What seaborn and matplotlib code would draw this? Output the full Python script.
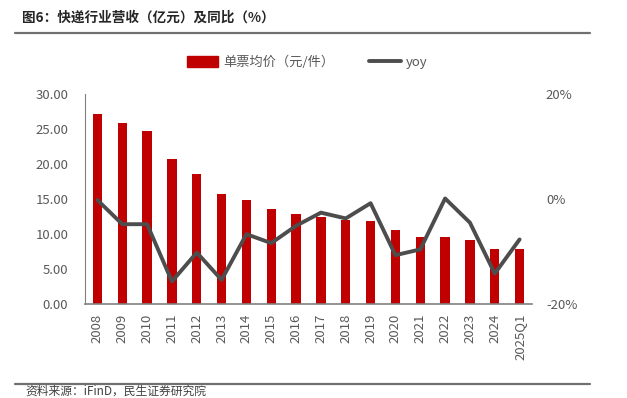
import matplotlib
matplotlib.use("Agg")
import matplotlib.pyplot as plt
import seaborn as sns
import pandas as pd
from matplotlib.lines import Line2D
from matplotlib.patches import Patch

sns.set_style("white")
plt.rcParams['font.family'] = ['Noto Sans CJK SC', 'DejaVu Sans']

# Data
years = ['2008', '2009', '2010', '2011', '2012', '2013', '2014', '2015', '2016',
         '2017', '2018', '2019', '2020', '2021', '2022', '2023', '2024', '2025Q1']
price = [27.2, 25.9, 24.7, 20.7, 18.6, 15.7, 14.8, 13.5, 12.8,
         12.4, 12.0, 11.9, 10.6, 9.6, 9.6, 9.2, 7.9, 7.8]
yoy = [-0.2, -4.8, -4.8, -15.7, -10.2, -15.4, -6.7, -8.4, -5.1,
       -2.6, -3.7, -0.8, -10.7, -9.6, 0.1, -4.5, -14.2, -7.7]

df = pd.DataFrame({'year': years, 'price': price, 'yoy': yoy})

red = '#C00000'
gray_line = '#4D4D4D'
tick_col = '#595959'

fig = plt.figure(figsize=(6.27, 3.98), dpi=100)
ax = fig.add_axes([0.1356, 0.2362, 0.7129, 0.5276])

sns.barplot(data=df, x='year', y='price', color=red, width=0.38, ax=ax,
            saturation=1, linewidth=0)
ax.set_ylim(0, 30)
ax.set_yticks([0, 5, 10, 15, 20, 25, 30])
ax.set_yticklabels([f'{v:.2f}' for v in [0, 5, 10, 15, 20, 25, 30]])
ax.set_xlim(-0.5, len(years) - 0.5)
ax.set_xlabel('')
ax.set_ylabel('')

ax2 = ax.twinx()
sns.lineplot(x=list(range(len(years))), y=df['yoy'], color=gray_line, linewidth=2.8, ax=ax2)
ax2.set_ylim(-20, 20)
ax2.set_yticks([-20, 0, 20])
ax2.set_yticklabels(['-20%', '0%', '20%'])
ax2.set_ylabel('')

for a in (ax, ax2):
    for s in a.spines.values():
        s.set_visible(False)
    a.tick_params(length=0, colors=tick_col, labelsize=9.5)
ax.spines['left'].set_visible(True)
ax.spines['bottom'].set_visible(True)
ax.spines['left'].set_color('#808080')
ax.spines['bottom'].set_color('#808080')
ax.spines['bottom'].set_linewidth(1.2)
ax.tick_params(axis='x', rotation=90, labelsize=9.5, pad=7)
ax.tick_params(axis='y', pad=12)
ax2.tick_params(axis='y', pad=10)

# legend
handles = [Patch(color=red), Line2D([0], [0], color=gray_line, linewidth=2.8)]
fig.legend(handles, ['单票均价（元/件）', 'yoy'], loc='center', bbox_to_anchor=(0.49, 0.843),
           ncol=2, frameon=False, fontsize=9.5, handlelength=2.4, handleheight=0.9,
           handletextpad=0.4, columnspacing=2.6, labelcolor=tick_col)

# title, rules and source
fig.text(0.035, 0.955, '图6：快递行业营收（亿元）及同比（%）', fontsize=9.8,
         fontweight='bold', color='#262626', va='center')
fig.add_artist(Line2D([0.024, 0.941], [0.917, 0.917], color='#707070', linewidth=1.6))
fig.add_artist(Line2D([0.024, 0.941], [0.035, 0.035], color='#707070', linewidth=1.6))
fig.text(0.04, 0.0, '资料来源：iFinD，民生证券研究院', fontsize=8.5, color='#404040', va='bottom')

fig.savefig('out.png', dpi=100)
